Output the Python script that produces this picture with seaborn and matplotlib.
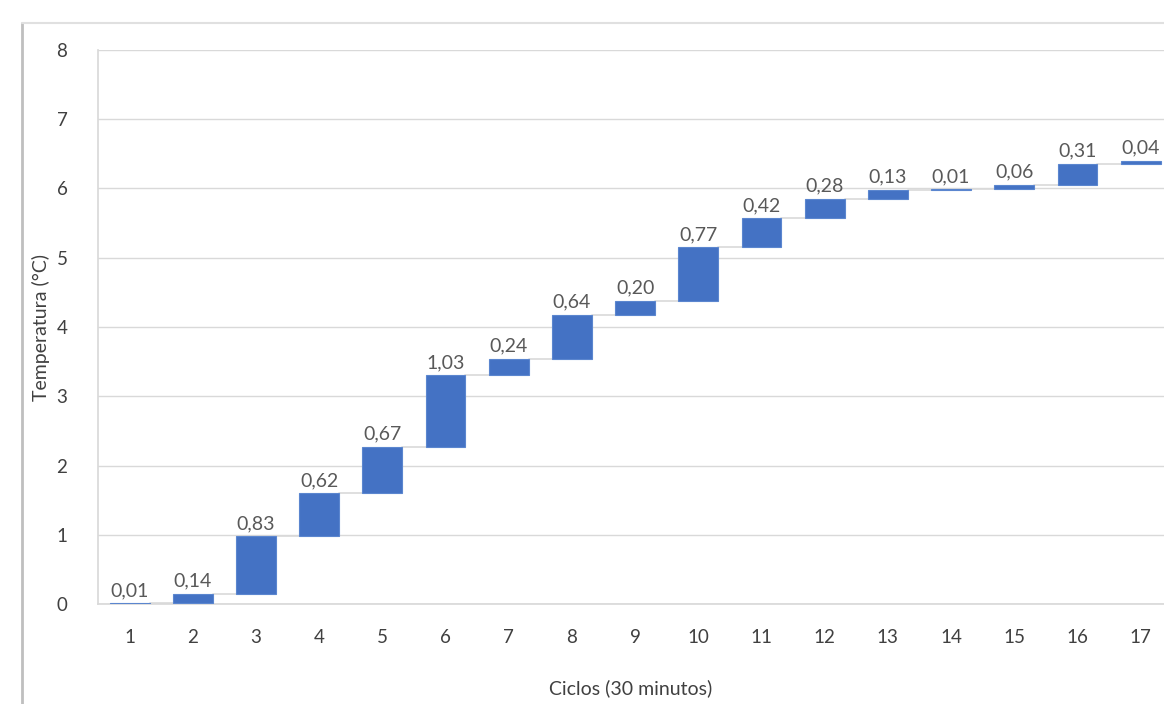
import matplotlib
matplotlib.use("Agg")
import matplotlib.pyplot as plt
import seaborn as sns
import numpy as np
import pandas as pd
from matplotlib.lines import Line2D

# Temperature increase per 30-minute cycle (waterfall steps)
ciclos = [str(i) for i in range(1, 18)]
incrementos = [0.01, 0.14, 0.83, 0.62, 0.67, 1.03, 0.24, 0.64, 0.20,
               0.77, 0.42, 0.28, 0.13, 0.01, 0.06, 0.31, 0.04]
y_ticks = [0, 1, 2, 3, 4, 5, 6, 7, 8]

# cumulative start/end of each step
fim = np.cumsum(incrementos)
inicio = fim - np.array(incrementos)

df = pd.DataFrame({"ciclo": ciclos, "inc": incrementos, "base": inicio})

sns.set_theme(style="whitegrid")
plt.rcParams["font.family"] = ["Lato", "DejaVu Sans"]

fig = plt.figure(figsize=(11.64, 7.04), dpi=100)
ax = fig.add_axes([0.0842, 0.142, 0.9158, 0.787])

sns.barplot(data=df, x="ciclo", y="inc", bottom=df["base"].values,
            color="#4472C4", saturation=1, width=0.63, ax=ax, zorder=3,
            edgecolor="#5B86CF", linewidth=0.8)

# connector lines between steps
half = 0.63 / 2
for i in range(len(ciclos) - 1):
    ax.plot([i + half, i + 1 - half], [fim[i], fim[i]],
            color="#D9D9D9", lw=1.2, zorder=2)

# value labels above each step
for i, v in enumerate(incrementos):
    ax.annotate(f"{v:.2f}".replace(".", ","), (i, fim[i]),
                xytext=(0, 3), textcoords="offset points",
                ha="center", va="bottom", fontsize=14, color="#595959")

ax.set_ylim(0, 8)
ax.set_yticks(y_ticks)
ax.set_xlim(-0.5, 16.37)
ax.grid(axis="y", color="#D9D9D9", lw=1)
ax.grid(axis="x", visible=False)
ax.tick_params(axis="both", length=0, labelsize=13.5, colors="#404040")
ax.tick_params(axis="x", pad=18)
ax.tick_params(axis="y", pad=22)

for s in ["top", "right"]:
    ax.spines[s].set_visible(False)
ax.spines["left"].set_color("#D9D9D9")
ax.spines["bottom"].set_color("#D9D9D9")

ax.set_xlabel("Ciclos (30 minutos)", fontsize=14, color="#404040")
ax.xaxis.set_label_coords(0.5, -0.135)
ax.set_ylabel("Temperatura (°C)", fontsize=14, color="#404040")
ax.yaxis.set_label_coords(-0.045, 0.5)

# outer chart frame (left and top edges)
fig.add_artist(Line2D([22 / 1164, 22 / 1164], [0, 1 - 23 / 704],
                      transform=fig.transFigure, color="#BFBFBF", lw=2))
fig.add_artist(Line2D([22 / 1164, 1], [1 - 23 / 704, 1 - 23 / 704],
                      transform=fig.transFigure, color="#E0E0E0", lw=1.5))

fig.savefig("out.png", dpi=100)
